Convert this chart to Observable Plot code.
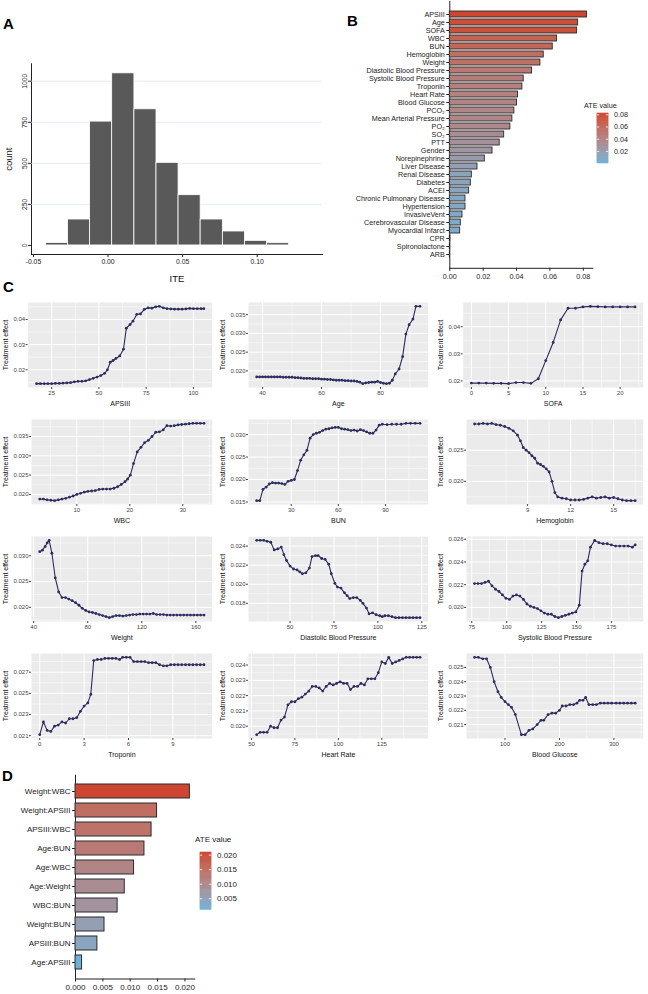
<!DOCTYPE html>
<html>
<head>
<meta charset="utf-8">
<script src="https://cdn.jsdelivr.net/npm/d3@7"></script>
<script src="https://cdn.jsdelivr.net/npm/@observablehq/plot@0.6"></script>
<style>
  body { margin: 0; background: #fff; }
  #fig { position: relative; width: 648px; height: 994px; overflow: hidden; background: #fff;
         font-family: "Liberation Sans", Arial, Helvetica, sans-serif; color: #000; }
  .panel { position: absolute; line-height: 0; }
  .tag { position: absolute; font-weight: bold; font-size: 15px; line-height: 15px; }
  .ltitle { position: absolute; line-height: 1; white-space: nowrap; color: #222; }
</style>
</head>
<body>
<div id="fig"></div>
<script>
// ---------- A: distribution of individual treatment effects ----------
const iteBinEdges = [-0.0416, -0.0268, -0.0120, 0.0028, 0.0177, 0.0325, 0.0473, 0.0621, 0.0770, 0.0918, 0.1066, 0.1214];
const iteCounts   = [15, 158, 754, 1048, 829, 503, 306, 158, 85, 28, 14];
const iteTicks    = [-0.05, 0, 0.05, 0.10];
const countTicks  = [0, 250, 500, 750, 1000];

// ---------- B: average treatment effect by feature ----------
const featureNames = ["APSIII", "Age", "SOFA", "WBC", "BUN", "Hemoglobin", "Weight",
  "Diastolic Blood Pressure", "Systolic Blood Pressure", "Troponin", "Heart Rate", "Blood Glucose",
  "PCO₂", "Mean Arterial Pressure", "PO₂", "SO₂", "PTT", "Gender", "Norepinephrine",
  "Liver Disease", "Renal Disease", "Diabetes", "ACEI", "Chronic Pulmonary Disease", "Hypertension",
  "InvasiveVent", "Cerebrovascular Disease", "Myocardial Infarct", "CPR", "Spironolactone", "ARB"];
const featureAte = [0.0822, 0.0769, 0.0763, 0.0643, 0.0617, 0.0563, 0.0543,
  0.0493, 0.0443, 0.0435, 0.0409, 0.0403,
  0.0387, 0.0375, 0.0363, 0.0326, 0.0299, 0.0256, 0.0210,
  0.0166, 0.0132, 0.0126, 0.0116, 0.0094, 0.0094,
  0.0076, 0.0066, 0.0062, 0.0003, 0.0002, 0.0001];
const featureAteTicks = [0, 0.02, 0.04, 0.06, 0.08];
const featureLegendTicks = [0.02, 0.04, 0.06, 0.08];

// ---------- D: average treatment effect by feature pair ----------
const pairNames = ["Weight:WBC", "Weight:APSIII", "APSIII:WBC", "Age:BUN", "Age:WBC",
  "Age:Weight", "WBC:BUN", "Weight:BUN", "APSIII:BUN", "Age:APSIII"];
const pairAte = [0.0209, 0.0149, 0.0139, 0.0126, 0.0107, 0.0090, 0.0077, 0.0053, 0.0040, 0.0012];
const pairAteTicks = [0, 0.005, 0.010, 0.015, 0.020];
const pairLegendTicks = [0.005, 0.010, 0.015, 0.020];

// ---------- C: treatment effect along each feature ----------
const apsiiiGrid = [17,19,21,23,25,27,29,31,33,35,37,39,41,43,45,47,49,51,53,54.5,56,57.5,59,61,63,64.5,66.5,68,70,72,74,76,78,80,82,84,86,88,90,92,94,96,98,100,102,104,105.5];
const apsiiiEffect = [.0145,.0145,.0145,.0145,.0145,.0146,.0146,.0147,.0148,.0149,.0152,.0154,.0154,.0156,.0161,.0166,.0171,.0177,.0186,.0200,.0230,.0237,.0245,.0255,.0282,.0365,.0380,.0393,.0420,.0422,.0440,.0446,.0445,.0450,.0452,.0446,.0443,.0442,.0441,.0441,.0441,.0442,.0444,.0443,.0443,.0443,.0443];

const ageGrid = [38,39,40,41,42,43,44,45,46,47,48,49,50,51,52,53,54,55,56,57,58,59,60,61,62,63,64,65,66,67,68,69,70,71,72,73,74,75,76,77,78,79,80,81,82,83,84,85,86.3,87.5,88.6,89.7,91,92,93.4];
const ageEffect = [.0184,.0184,.0184,.0184,.0184,.0184,.0184,.0184,.0184,.0183,.0183,.0183,.0183,.0182,.0182,.0181,.0180,.0180,.0180,.0179,.0179,.0179,.0178,.0178,.0177,.0177,.0176,.0175,.0175,.0175,.0174,.0174,.0173,.0173,.0172,.0170,.0166,.0168,.0169,.0170,.0170,.0172,.0169,.0167,.0166,.0167,.0175,.0192,.0205,.0238,.0298,.0323,.0338,.0372,.0372];

const sofaGrid = [0,1,2,3,4,5,6,7,8,9,10,11,12,13,14,15,16,17,18,19,20,21,22];
const sofaEffect = [.0192,.0192,.0192,.0191,.0191,.0190,.0194,.0194,.0191,.0208,.0275,.0342,.0425,.0468,.0468,.0473,.0475,.0474,.0473,.0473,.0473,.0473,.0473];

const wbcGrid = [3,3.7,4.4,5.1,5.8,6.5,7.2,7.9,8.6,9.3,10,10.7,11.4,12.1,12.8,13.5,14.2,14.9,15.6,16.3,17,17.7,18.4,19.1,19.6,20.1,20.7,21.4,22.1,22.8,23.5,24.2,24.9,25.6,26.3,27,27.7,28.4,29.1,29.8,30.5,31.2,31.9,32.6,33.3,34];
const wbcEffect = [.0188,.0188,.0186,.0185,.0184,.0186,.0188,.0190,.0193,.0196,.0200,.0203,.0206,.0208,.0209,.0210,.0213,.0214,.0214,.0214,.0216,.0220,.0226,.0233,.0240,.0250,.0280,.0310,.0322,.0334,.0340,.0350,.0361,.0362,.0367,.0378,.0377,.0378,.0380,.0381,.0382,.0383,.0384,.0384,.0384,.0384];

const bunGrid = [8,10,12,14,16,18,20,22,24,26,28,30,32,34,36,38,40,42,44,46,48,50,52,54,56,58,60,62,64,66,68,70,72,74,76,78,80,82,84,86,88,91,94,97,100,103,106,109,112];
const bunEffect = [.0153,.0153,.0178,.0183,.0190,.0193,.0192,.0192,.0191,.0189,.0196,.0198,.0200,.0220,.0243,.0255,.0265,.0292,.0300,.0303,.0305,.0309,.0312,.0313,.0315,.0316,.0316,.0313,.0312,.0311,.0309,.0310,.0308,.0311,.0309,.0306,.0303,.0303,.0310,.0321,.0323,.0322,.0323,.0323,.0323,.0325,.0325,.0325,.0325];

const hemoglobinGrid = [5.3,5.6,5.9,6.2,6.5,6.8,7.1,7.4,7.7,8.0,8.3,8.5,8.7,8.9,9.1,9.3,9.5,9.7,9.9,10.1,10.3,10.5,10.7,10.9,11.1,11.4,11.7,12.0,12.3,12.6,12.9,13.2,13.5,13.8,14.1,14.4,14.7,15.0,15.3,15.6,15.9,16.2,16.5];
const hemoglobinEffect = [.0292,.0292,.0293,.0292,.0293,.0291,.0290,.0288,.0285,.0281,.0274,.0265,.0254,.0250,.0246,.0241,.0237,.0229,.0227,.0224,.0220,.0215,.0200,.0182,.0175,.0173,.0172,.0170,.0170,.0170,.0171,.0173,.0175,.0173,.0174,.0175,.0173,.0174,.0172,.0170,.0169,.0169,.0169];

const weightGrid = [44.5,46.5,48.5,50,51.5,53.5,56,58.5,61,63.5,66,68.5,71,73.5,76,78.5,81,83.5,86,88.5,91,93.5,96,98.5,101,103.5,106,108.5,111,113.5,116,118.5,121,123.5,126,128.5,131,133.5,136,138.5,141,143.5,146,148.5,151,153.5,156,158.5,161,163.5,166];
const weightEffect = [.0308,.0311,.0318,.0325,.0330,.0305,.0257,.0230,.0219,.0219,.0216,.0213,.0209,.0204,.0198,.0194,.0191,.0190,.0188,.0186,.0184,.0182,.0180,.0182,.0184,.0184,.0183,.0184,.0185,.0186,.0186,.0187,.0187,.0187,.0187,.0188,.0186,.0186,.0186,.0185,.0185,.0185,.0185,.0185,.0185,.0185,.0185,.0185,.0185,.0185,.0185];

const dbpGrid = [31,33,35,37,39,41,43,45,46.5,48,50,52,54,55.5,57,59,61,62.5,64.5,66,68,70,72,73.5,75.5,77,79,81,82.5,84,86,88,90,91.5,93.5,95,97,99,101,102.5,104,106,108,110,112,114,116,118,120,122,124];
const dbpEffect = [.0246,.0246,.0246,.0245,.0244,.0236,.0237,.0239,.0231,.0225,.0219,.0216,.0215,.0213,.0211,.0212,.0217,.0229,.0230,.0230,.0227,.0226,.0221,.0211,.0201,.0197,.0196,.0191,.0188,.0185,.0186,.0186,.0183,.0180,.0175,.0169,.0170,.0168,.0167,.0166,.0167,.0167,.0166,.0165,.0165,.0165,.0165,.0165,.0165,.0165,.0165];

const sbpGrid = [77,79.5,82,84.5,87,89.5,92,94.5,97,99.5,102,104.5,107,109.5,112,114.5,117,119.5,122,124.5,127,129.5,132,134.5,137,139.5,142,144.5,147,149.5,152,154,156,158,160,163,166,169,172,175,178,181,184,187,190,192];
const sbpEffect = [.0221,.0221,.0221,.0222,.0223,.0219,.0216,.0214,.0211,.0208,.0207,.0210,.0211,.0210,.0207,.0203,.0201,.0200,.0199,.0197,.0195,.0194,.0194,.0192,.0191,.0192,.0193,.0194,.0195,.0196,.0202,.0232,.0238,.0241,.0253,.0259,.0257,.0256,.0256,.0255,.0254,.0254,.0254,.0254,.0253,.0255];

const troponinGrid = [0,0.25,0.5,0.75,1.0,1.25,1.5,1.75,2.0,2.25,2.5,2.75,3.0,3.25,3.45,3.65,3.9,4.15,4.4,4.65,4.9,5.15,5.4,5.6,5.85,6.1,6.35,6.6,6.85,7.1,7.35,7.6,7.85,8.1,8.35,8.6,8.85,9.1,9.35,9.6,9.85,10.1,10.35,10.6,10.85,11.1];
const troponinEffect = [.0211,.0223,.0215,.0214,.0219,.0220,.0223,.0222,.0226,.0226,.0227,.0233,.0238,.0241,.0249,.0281,.0282,.0282,.0283,.0283,.0283,.0283,.0282,.0284,.0284,.0284,.0280,.0280,.0280,.0280,.0279,.0279,.0279,.0277,.0276,.0276,.0277,.0277,.0277,.0277,.0277,.0277,.0277,.0277,.0277,.0277];

const heartRateGrid = [53,55,57,59,61,63,65,67,69,71,73,75,77,79,81,83,85,87,89,91,93,95,97,99,101,103,105,107,109,111,113,115,117,119,121,123,125,127,129,131,133,135,137,139,141,143,145,147];
const heartRateEffect = [.01945,.0196,.0196,.0196,.0200,.0199,.0199,.0204,.0206,.0214,.0216,.0216,.0218,.0219,.0221,.0223,.0226,.0226,.0225,.0223,.0226,.0228,.0227,.0228,.0229,.0228,.0228,.0224,.0226,.0226,.0228,.0227,.0231,.0231,.0231,.0235,.0242,.0241,.0245,.0241,.0242,.0243,.0244,.0245,.0245,.0245,.0245,.0245];

const glucoseGrid = [44,51,59,66,73,80,87,93,100,106,112,119,130,137,144,151,159,166,171,179,186,193,200,205,212,219,226,232,237,243,248,254,261,268,275,282,289,296,304,311,318,325,332,339];
const glucoseEffect = [.0257,.0257,.0256,.0256,.0250,.0240,.0233,.0229,.0226,.0224,.0222,.0217,.0203,.0203,.0206,.0207,.0210,.0213,.0213,.0217,.0218,.0218,.0220,.0223,.0223,.0224,.0224,.0225,.0227,.0227,.0229,.0224,.0224,.0224,.0225,.0225,.0225,.0225,.0225,.0225,.0225,.0225,.0225,.0225];

const effectPanels = [
  {label: "APSIII", x: apsiiiGrid, y: apsiiiEffect, xTicks: [25, 50, 75, 100], yTicks: [0.02, 0.03, 0.04], digits: 2},
  {label: "Age", x: ageGrid, y: ageEffect, xTicks: [40, 60, 80], yTicks: [0.020, 0.025, 0.030, 0.035], digits: 3},
  {label: "SOFA", x: sofaGrid, y: sofaEffect, xTicks: [0, 5, 10, 15, 20], yTicks: [0.02, 0.03, 0.04], digits: 2},
  {label: "WBC", x: wbcGrid, y: wbcEffect, xTicks: [10, 20, 30], yTicks: [0.020, 0.025, 0.030, 0.035], digits: 3},
  {label: "BUN", x: bunGrid, y: bunEffect, xTicks: [30, 60, 90], yTicks: [0.015, 0.020, 0.025, 0.030], digits: 3},
  {label: "Hemoglobin", x: hemoglobinGrid, y: hemoglobinEffect, xTicks: [9, 12, 15], yTicks: [0.020, 0.025], digits: 3},
  {label: "Weight", x: weightGrid, y: weightEffect, xTicks: [40, 80, 120, 160], yTicks: [0.020, 0.025, 0.030], digits: 3},
  {label: "Diastolic Blood Pressure", x: dbpGrid, y: dbpEffect, xTicks: [50, 75, 100, 125], yTicks: [0.018, 0.020, 0.022, 0.024], digits: 3},
  {label: "Systolic Blood Pressure", x: sbpGrid, y: sbpEffect, xTicks: [75, 100, 125, 150, 175], yTicks: [0.020, 0.022, 0.024, 0.026], digits: 3},
  {label: "Troponin", x: troponinGrid, y: troponinEffect, xTicks: [0, 3, 6, 9], yTicks: [0.021, 0.023, 0.025, 0.027], digits: 3},
  {label: "Heart Rate", x: heartRateGrid, y: heartRateEffect, xTicks: [50, 75, 100, 125], yTicks: [0.020, 0.021, 0.022, 0.023, 0.024], digits: 3},
  {label: "Blood Glucose", x: glucoseGrid, y: glucoseEffect, xTicks: [100, 200, 300], yTicks: [0.021, 0.022, 0.023, 0.024, 0.025], digits: 3}
];

// ---------- shared styling ----------
const FONT = "'Liberation Sans', Arial, Helvetica, sans-serif";
const ateLow = "#6CB2D8", ateHigh = "#CD4631";
const lineColor = "#2E2B5F";
const columnLeft = [0, 217, 435];
const fig = document.getElementById("fig");

function place(node, left, top) {
  const wrap = document.createElement("div");
  wrap.className = "panel";
  wrap.style.left = left + "px";
  wrap.style.top = top + "px";
  wrap.appendChild(node);
  fig.appendChild(wrap);
}
function tag(text, left, top) {
  const d = document.createElement("div");
  d.className = "tag"; d.textContent = text;
  d.style.left = left + "px"; d.style.top = top + "px";
  fig.appendChild(d);
}
function legendTitle(text, left, top, size) {
  const d = document.createElement("div");
  d.className = "ltitle"; d.textContent = text;
  d.style.left = left + "px"; d.style.top = top + "px"; d.style.fontSize = size + "px";
  fig.appendChild(d);
}
// axis titles: larger than tick labels, plain text without direction arrows
function styleAxisLabels(svg, size) {
  d3.select(svg).selectAll('g[aria-label="x-axis label"], g[aria-label="y-axis label"]')
    .style("font-size", size + "px").style("fill", "#111")
    .selectAll("text, tspan")
    .each(function () {
      if (this.childElementCount === 0) this.textContent = this.textContent.replace(/\s*[←↑→↓]\s*/g, "");
    });
}
const fixed = (k) => (d) => d.toFixed(k);

// ---------- A ----------
const iteBins = iteCounts.map((c, i) => ({lo: iteBinEdges[i], hi: iteBinEdges[i + 1], count: c}));
const histA = Plot.plot({
  width: 330, height: 235,
  marginLeft: 31, marginRight: 8, marginTop: 8.3, marginBottom: 36,
  style: {background: "transparent", fontFamily: FONT, fontSize: "6.8px", color: "#222", overflow: "visible"},
  x: {domain: [-0.0513, 0.1438], ticks: iteTicks, tickFormat: fixed(2), tickSize: 3, tickPadding: 2,
      label: "ITE", labelAnchor: "center", labelArrow: "none", labelOffset: 27, line: true},
  y: {domain: [-55, 1106], ticks: countTicks, tickFormat: (d) => String(d), tickSize: 3, tickPadding: 2, tickRotate: -90,
      label: "count", labelAnchor: "center", labelArrow: "none", labelOffset: 26, line: true},
  marks: [
    Plot.gridY(countTicks.filter((d) => d > 0), {stroke: "#dce9ee", strokeOpacity: 1, strokeWidth: 0.8}),
    Plot.rect(iteBins, {x1: "lo", x2: "hi", y1: 0, y2: "count", fill: "#595959", stroke: "#fff", strokeWidth: 0.8})
  ]
});
styleAxisLabels(histA, 9.5);
place(histA, 0, 55);

// ---------- B ----------
const featureRows = featureNames.map((name, i) => ({name, ate: featureAte[i]}));
const colorB = {type: "linear", domain: d3.extent(featureAte), range: [ateLow, ateHigh], interpolate: d3.interpolateLab};
const barsB = Plot.plot({
  width: 318, height: 290,
  marginLeft: 119.3, marginRight: 55.7, marginTop: 0.9, marginBottom: 22.2,
  style: {background: "transparent", fontFamily: FONT, fontSize: "7.2px", color: "#222", overflow: "visible"},
  x: {domain: [0, 0.0857], ticks: featureAteTicks, tickFormat: fixed(2), tickSize: 3, tickPadding: 2.5, label: null, line: true},
  y: {domain: featureNames, padding: 0.2, tickSize: 3, tickPadding: 2, label: null, line: true},
  color: colorB,
  marks: [
    Plot.barX(featureRows, {x: "ate", y: "name", fill: "ate", stroke: "#2b2b2b", strokeWidth: 0.9})
  ]
});
place(barsB, 330, 0);

// ---------- D ----------
const pairRows = pairNames.map((name, i) => ({name, ate: pairAte[i]}));
const colorD = {type: "linear", domain: d3.extent(pairAte), range: [ateLow, ateHigh], interpolate: d3.interpolateLab};
const barsD = Plot.plot({
  width: 330, height: 224,
  marginLeft: 75, marginRight: 135.7, marginTop: 4.7, marginBottom: 15.5,
  style: {background: "transparent", fontFamily: FONT, fontSize: "8px", color: "#222", overflow: "visible"},
  x: {domain: [0, 0.0218], ticks: pairAteTicks, tickFormat: fixed(3), tickSize: 3, tickPadding: 2.5, label: null, line: true},
  y: {domain: pairNames, paddingInner: 0.25, paddingOuter: 0.225, tickSize: 3, tickPadding: 2, label: null, line: true},
  color: colorD,
  marks: [
    Plot.barX(pairRows, {x: "ate", y: "name", fill: "ate", stroke: "#2b2b2b", strokeWidth: 1})
  ]
});
place(barsD, 0, 770);

// ---------- colour bars ----------
function colorbar(color, ext, ticks, fmt, left, top, barW, barH, fontSize) {
  const n = 64;
  const cells = d3.range(n).map((i) => {
    const a = ext[0] + (ext[1] - ext[0]) * i / n, b = ext[0] + (ext[1] - ext[0]) * (i + 1) / n;
    return {a, b, mid: (a + b) / 2};
  });
  const pad = 5;
  const svg = Plot.plot({
    width: barW + 34, height: barH + 2 * pad,
    marginLeft: 0, marginRight: 34, marginTop: pad, marginBottom: pad,
    style: {background: "transparent", fontFamily: FONT, fontSize: fontSize + "px", color: "#222", overflow: "visible"},
    x: {domain: [0, 1], axis: null},
    y: {domain: ext},
    color,
    marks: [
      Plot.rect(cells, {x1: 0, x2: 1, y1: "a", y2: "b", fill: "mid", stroke: "mid", strokeWidth: 0.6}),
      Plot.ruleY(ticks, {x1: 0, x2: 0.2, stroke: "#fff", strokeWidth: 0.8}),
      Plot.ruleY(ticks, {x1: 0.8, x2: 1, stroke: "#fff", strokeWidth: 0.8}),
      Plot.axisY(ticks, {anchor: "right", tickSize: 0, tickPadding: 5.5, tickFormat: fmt, label: null})
    ]
  });
  place(svg, left, top - pad);
}
legendTitle("ATE value", 584, 102, 7.2);
colorbar(colorB, d3.extent(featureAte), featureLegendTicks, fixed(2), 596.7, 113.3, 11, 50, 7.2);
legendTitle("ATE value", 195, 836, 8);
colorbar(colorD, d3.extent(pairAte), pairLegendTicks, fixed(3), 200, 851.7, 11, 57.3, 8);

// ---------- C: small multiples ----------
const measure = document.createElement("canvas").getContext("2d");
measure.font = "6px " + FONT;

function minorBreaks(ticks, dom) {
  const step = ticks.length > 1 ? ticks[1] - ticks[0] : 0.005;
  const m = [ticks[0] - step / 2, ...ticks.map((t) => t + step / 2)];
  return m.filter((v) => v > dom[0] && v < dom[1]);
}

effectPanels.forEach((p, k) => {
  const col = k % 3, row = Math.floor(k / 3);
  const pts = p.x.map((v, i) => ({v, e: p.y[i]}));
  const xe = d3.extent(p.x), ye = d3.extent(p.y);
  const xPad = (xe[1] - xe[0]) * 0.05, yPad = (ye[1] - ye[0]) * 0.05;
  const xDom = [xe[0] - xPad, xe[1] + xPad], yDom = [ye[0] - yPad, ye[1] + yPad];
  const yFmt = fixed(p.digits);
  const xTicks = p.xTicks.filter((t) => t >= xDom[0] && t <= xDom[1]);
  const yTicks = p.yTicks.filter((t) => t >= yDom[0] && t <= yDom[1]);
  const labelW = d3.max(yTicks, (t) => measure.measureText(yFmt(t)).width);
  const ml = 12.5 + labelW + 3.5;
  const width = col === 2 ? 213 : 216;
  const svg = Plot.plot({
    width, height: 117,
    marginLeft: ml, marginRight: col === 0 ? 4.3 : 5.3, marginTop: 6, marginBottom: 26,
    style: {background: "transparent", fontFamily: FONT, fontSize: "6px", color: "#444", overflow: "visible"},
    x: {domain: xDom},
    y: {domain: yDom},
    marks: [
      Plot.frame({fill: "#EBEBEB", stroke: "none"}),
      Plot.ruleX(minorBreaks(p.xTicks, xDom), {stroke: "#fff", strokeWidth: 0.5}),
      Plot.ruleY(minorBreaks(p.yTicks, yDom), {stroke: "#fff", strokeWidth: 0.5}),
      Plot.ruleX(xTicks, {stroke: "#fff", strokeWidth: 1}),
      Plot.ruleY(yTicks, {stroke: "#fff", strokeWidth: 1}),
      Plot.line(pts, {x: "v", y: "e", stroke: lineColor, strokeWidth: 1.1}),
      Plot.dot(pts, {x: "v", y: "e", r: 1.4, fill: lineColor, stroke: "none"}),
      Plot.axisX(xTicks, {tickSize: 2, tickPadding: 1, tickFormat: (d) => String(d),
        label: p.label, labelAnchor: "center", labelArrow: "none", labelOffset: 18}),
      Plot.axisY(yTicks, {tickSize: 2, tickPadding: 1, tickFormat: yFmt,
        label: "Treatment effect", labelAnchor: "center", labelArrow: "none", labelOffset: ml - 3})
    ]
  });
  styleAxisLabels(svg, 7);
  place(svg, columnLeft[col], 296 + row * 117);
});

// ---------- panel tags ----------
tag("A", 3, 16);
tag("B", 347, 13);
tag("C", 3, 279);
tag("D", 2, 768);
</script>
</body>
</html>
